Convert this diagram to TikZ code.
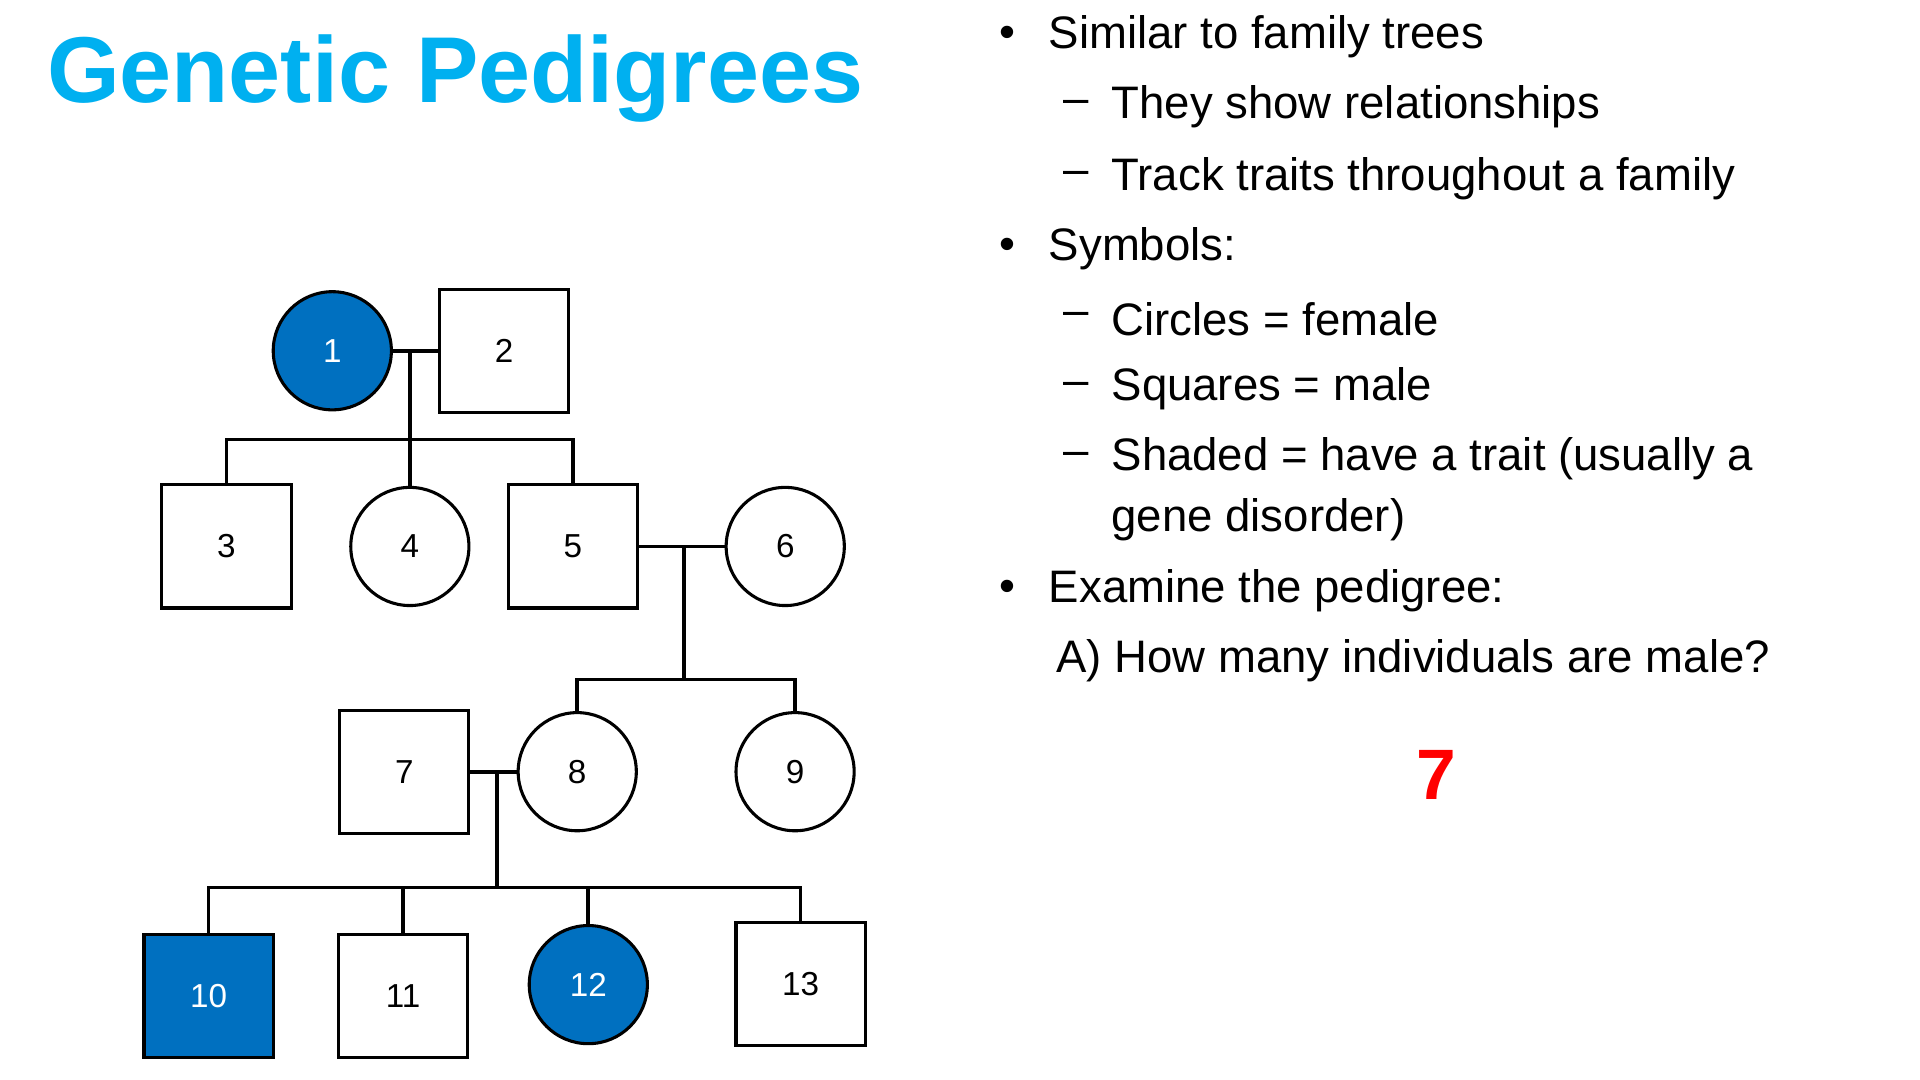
\documentclass[tikz,border=0pt]{standalone}
\usepackage{fontspec}
\setmainfont{Liberation Sans}
\definecolor{ttl}{RGB}{0,176,240}
\definecolor{aff}{RGB}{0,112,192}
\begin{document}
\begin{tikzpicture}[x=1pt,y=-1pt,
  sq/.style={draw,line width=2.5pt,minimum width=105pt,minimum height=100pt,inner sep=0,font=\fontsize{27}{30}\selectfont},
  ci/.style={draw,line width=2.5pt,circle,minimum size=96pt,inner sep=0,font=\fontsize{27}{30}\selectfont},
  affected/.style={fill=aff,text=white},
  ln/.style={line width=3pt},
  txt/.style={anchor=west,inner sep=0,font=\fontsize{37}{40}\selectfont}]
\useasboundingbox (0,0) rectangle (1560,877.5);
\node[anchor=base west,inner sep=0,text=ttl,font=\bfseries\fontsize{76}{80}\selectfont] (title) at (38,83) {Genetic Pedigrees};
% bullets
\node[txt] (b1) at (812,30) {•};
\node[txt] (t1) at (852,30) {Similar to family trees};
\node[txt] (d1) at (864,87) {–};
\node[txt] (t2) at (903,87) {They show relationships};
\node[txt] (d2) at (864,145) {–};
\node[txt] (t3) at (903,145) {Track traits throughout a family};
\node[txt] (b2) at (812,202) {•};
\node[txt] (t4) at (852,202) {Symbols:};
\node[txt] (d3) at (864,259) {–};
\node[txt] (t5) at (903,259) {Circles = female};
\node[txt] (d4) at (864,316) {–};
\node[txt] (t6) at (903,316) {Squares = male};
\node[txt] (d5) at (864,373) {–};
\node[txt] (t7) at (903,373) {Shaded = have a trait (usually a};
\node[txt] (t8) at (903,422) {gene disorder)};
\node[txt] (b3) at (812,480) {•};
\node[txt] (t9) at (852,480) {Examine the pedigree:};
\node[txt] (t10) at (858,537) {A) How many individuals are male?};
\node[text=red,font=\bfseries\fontsize{58}{60}\selectfont] (ans) at (1167,630) {7};
% pedigree
\node[ci,affected] (p1) at (270,285) {1};
\node[sq] (p2) at (409.5,285) {2};
\node[sq] (p3) at (184,444) {3};
\node[ci] (p4) at (333,444) {4};
\node[sq] (p5) at (465.5,444) {5};
\node[ci] (p6) at (638,444) {6};
\node[sq] (p7) at (328.5,627) {7};
\node[ci] (p8) at (469,627) {8};
\node[ci] (p9) at (646,627) {9};
\node[sq,affected] (p10) at (169.5,809) {10};
\node[sq] (p11) at (327.5,809) {11};
\node[ci,affected] (p12) at (478,800) {12};
\node[sq] (p13) at (650.5,799.5) {13};
\coordinate (m1) at (333,285);
\coordinate (s1) at (333,357);
\coordinate (m2) at (556,443);
\coordinate (s2) at (556,552);
\coordinate (m3) at (404,627);
\coordinate (s3) at (404,721);
\draw[ln] (p1.east) -- (p2.west);
\draw[ln] (m1) -- (s1);
\draw[ln] (p3.north) |- (s1) -| (p5.north);
\draw[ln] (s1) -- (p4.north);
\draw[ln] (p5.east) -- (p6.west);
\draw[ln] (m2) -- (s2);
\draw[ln] (p8.north) |- (s2) -| (p9.north);
\draw[ln] (p7.east) -- (p8.west);
\draw[ln] (m3) -- (s3);
\draw[ln] (p10.north) |- (s3) -| (p13.north);
\draw[ln] (p11.north) -- (p11.north |- s3);
\draw[ln] (p12.north) -- (p12.north |- s3);
\end{tikzpicture}
\end{document}
